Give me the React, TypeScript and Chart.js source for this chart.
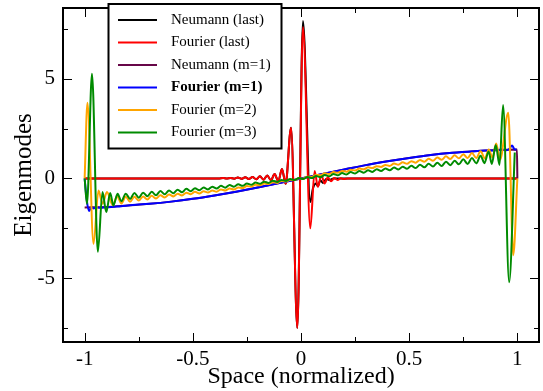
import React, { useEffect, useRef } from 'react';
import { Chart, registerables } from 'chart.js';

Chart.register(...registerables);

// ---------------- labels / styles ----------------
const seriesLabels = ['Neumann (last)', 'Fourier (last)', 'Neumann (m=1)', 'Fourier (m=1)', 'Fourier (m=2)', 'Fourier (m=3)'];
const seriesColors = ['#000000', '#ff0000', '#670748', '#0000ff', '#ffa500', '#008b00'];
const legendBold = [false, false, false, true, false, false];
const xTitle = 'Space (normalized)';
const yTitle = 'Eigenmodes';
const xRange = [-1.1, 1.1];
const yRange = [-8.2, 8.55];
const xStep = 0.5;
const yStep = 5;

// ---------------- data ----------------
// shared part of both "last" modes (left of the spike)
const lastSharedX = [-1, -0.38, -0.36, -0.343, -0.326, -0.309, -0.292, -0.275, -0.258, -0.241, -0.224, -0.207, -0.19, -0.173, -0.156, -0.139, -0.122, -0.105, -0.088, -0.071, -0.046, -0.017];
const lastSharedY = [0, 0, 0.02, -0.005, 0.03, -0.01, 0.045, -0.015, 0.06, -0.025, 0.08, -0.04, 0.11, -0.06, 0.15, -0.09, 0.22, -0.14, 0.48, -0.27, 2.55, -7.5];

const fourierLastX = [0.009, 0.043, 0.063, 0.078, 0.094, 0.109, 0.124, 0.139, 0.154, 0.169, 0.184, 0.199, 0.215, 1.0];
const fourierLastY = [7.6, -2.5, 0.38, -0.42, 0.17, -0.25, 0.06, -0.14, 0.02, -0.07, 0.01, -0.03, 0, 0];

const neumannLastX = [0.009, 0.043, 0.055, 0.07, 0.078, 0.089, 0.101, 0.117, 0.13, 0.15, 1.0];
const neumannLastY = [7.9, -1.18, -0.5, -0.25, -0.39, -0.085, -0.22, -0.02, -0.08, 0, 0];

const neumannM1X = [-1, -0.9, -0.8, -0.7, -0.6, -0.5, -0.4, -0.3, -0.2, -0.1, 0, 0.1, 0.2, 0.3, 0.4, 0.5, 0.6, 0.7, 0.8, 0.9, 0.998, 1.0];
const neumannM1Y = [-1.45, -1.43, -1.35, -1.27, -1.16, -1.02, -0.85, -0.66, -0.45, -0.23, 0, 0.23, 0.45, 0.67, 0.86, 1.03, 1.18, 1.29, 1.37, 1.43, 1.45, 0];

const fourierM1X = [-1, -0.99, -0.98, -0.968, -0.957, -0.945, -0.93, -0.9, -0.85, -0.8, -0.7, -0.6, -0.5, -0.4, -0.3, -0.2, -0.1, 0, 0.1, 0.2, 0.3, 0.4, 0.5, 0.6, 0.7, 0.8, 0.85, 0.9, 0.93, 0.95, 0.962, 0.976, 0.987, 0.996];
const fourierM1Y = [0, -1.1, -1.63, -1.43, -1.5, -1.44, -1.47, -1.44, -1.41, -1.35, -1.27, -1.16, -1.02, -0.85, -0.66, -0.45, -0.23, 0, 0.23, 0.45, 0.67, 0.86, 1.03, 1.18, 1.29, 1.37, 1.4, 1.42, 1.45, 1.42, 1.48, 1.65, 1.46, 1.45];

const fourierM2X = [
  -1, -0.987, -0.959, -0.936, -0.9175, -0.897,
  -0.87, -0.85, -0.83, -0.81, -0.79, -0.77, -0.75, -0.73, -0.71, -0.69,
  -0.67, -0.65, -0.63, -0.61, -0.59, -0.57, -0.55, -0.53, -0.51, -0.49,
  -0.47, -0.45, -0.43, -0.41, -0.39, -0.37, -0.35, -0.33, -0.31, -0.29,
  -0.27, -0.25, -0.23, -0.21, -0.19, -0.17, -0.15, -0.13, -0.11, -0.09,
  -0.07, -0.05, -0.03, -0.01, 0.01, 0.03, 0.05, 0.07, 0.09, 0.11,
  0.13, 0.15, 0.17, 0.19, 0.21, 0.23, 0.25, 0.27, 0.29, 0.31,
  0.33, 0.35, 0.37, 0.39, 0.41, 0.43, 0.45, 0.47, 0.49, 0.51,
  0.53, 0.55, 0.57, 0.59, 0.61, 0.63, 0.65, 0.67, 0.69, 0.71,
  0.73, 0.75, 0.77, 0.79, 0.81, 0.83, 0.85,
  0.868, 0.885, 0.902, 0.92, 0.958, 0.981, 1.0,
];
const fourierM2Y = [
  0, 3.8, -3.27, -0.6, -1.27, -0.68,
  -1.34, -0.89, -1.25, -0.92, -1.17, -0.92, -1.11, -0.90, -1.05, -0.87,
  -1.00, -0.84, -0.95, -0.80, -0.90, -0.76, -0.85, -0.71, -0.79, -0.67,
  -0.75, -0.64, -0.70, -0.60, -0.66, -0.55, -0.60, -0.50, -0.55, -0.45,
  -0.48, -0.38, -0.41, -0.32, -0.34, -0.25, -0.28, -0.19, -0.22, -0.12,
  -0.15, -0.06, -0.08, 0.01, -0.01, 0.09, 0.08, 0.18, 0.16, 0.26,
  0.23, 0.32, 0.29, 0.38, 0.34, 0.44, 0.40, 0.50, 0.46, 0.56,
  0.52, 0.62, 0.58, 0.68, 0.63, 0.75, 0.69, 0.81, 0.74, 0.87,
  0.79, 0.93, 0.84, 0.99, 0.89, 1.05, 0.94, 1.11, 0.98, 1.16,
  1.01, 1.22, 1.03, 1.28, 1.03, 1.36, 1.0,
  1.45, 1.05, 1.75, 0.95, 3.3, -3.85, 0,
];

const fourierM3X = [
  -1, -0.989, -0.966, -0.939, -0.9175, -0.9, -0.882, -0.867, -0.848,
  -0.83, -0.81, -0.79, -0.77, -0.75, -0.73, -0.71, -0.69, -0.67, -0.65,
  -0.63, -0.61, -0.59, -0.57, -0.55, -0.53, -0.51, -0.49, -0.47, -0.45,
  -0.43, -0.41, -0.39, -0.37, -0.35, -0.33, -0.31, -0.29, -0.27, -0.25,
  -0.23, -0.21, -0.19, -0.17, -0.15, -0.13, -0.11, -0.09, -0.07, -0.05,
  -0.03, -0.01, 0.01, 0.03, 0.05, 0.07, 0.09, 0.11, 0.13, 0.15,
  0.17, 0.19, 0.21, 0.23, 0.25, 0.27, 0.29, 0.31, 0.33, 0.35,
  0.37, 0.39, 0.41, 0.43, 0.45, 0.47, 0.49, 0.51, 0.53, 0.55,
  0.57, 0.59, 0.61, 0.63, 0.65, 0.67, 0.69, 0.71, 0.73, 0.75,
  0.77, 0.79, 0.81, 0.83,
  0.848, 0.867, 0.882, 0.9, 0.9175, 0.934, 0.962, 0.988,
];
const fourierM3Y = [
  0, -1.27, 5.25, -3.68, -0.68, -1.68, -0.73, -1.35, -0.77,
  -1.14, -0.76, -1.03, -0.73, -0.96, -0.71, -0.89, -0.67, -0.84, -0.63,
  -0.79, -0.60, -0.74, -0.56, -0.69, -0.52, -0.64, -0.49, -0.59, -0.45,
  -0.55, -0.41, -0.50, -0.37, -0.46, -0.33, -0.41, -0.29, -0.37, -0.25,
  -0.32, -0.20, -0.27, -0.16, -0.22, -0.11, -0.17, -0.07, -0.12, -0.02,
  -0.08, 0.03, -0.03, 0.08, 0.02, 0.12, 0.07, 0.17, 0.11, 0.22,
  0.16, 0.27, 0.20, 0.32, 0.25, 0.37, 0.29, 0.41, 0.33, 0.46,
  0.37, 0.50, 0.41, 0.55, 0.45, 0.59, 0.49, 0.64, 0.52, 0.69,
  0.56, 0.74, 0.60, 0.79, 0.63, 0.84, 0.67, 0.89, 0.71, 0.96,
  0.73, 1.03, 0.76, 1.14,
  0.77, 1.35, 0.73, 1.68, 0.68, 3.68, -5.2, 1.3,
];

const zip = (xs: number[], ys: number[]) => xs.map((x, i) => ({ x, y: ys[i] }));

const seriesData = [
  zip(lastSharedX.concat(neumannLastX), lastSharedY.concat(neumannLastY)),
  zip(lastSharedX.concat(fourierLastX), lastSharedY.concat(fourierLastY)),
  zip(neumannM1X, neumannM1Y),
  zip(fourierM1X, fourierM1Y),
  zip(fourierM2X, fourierM2Y),
  zip(fourierM3X, fourierM3Y),
];

const FONT = '"Liberation Serif", "Times New Roman", serif';

// ---------------- layout constants ----------------
const LEGEND = { left: 108.5, top: 4, right: 281.5, bottom: 148.5, lineX0: 118, lineX1: 157, textX: 171, rowY0: 20, rowDy: 22.5 };

const framePlugin = {
  id: 'frameTicksLegend',
  afterDatasetsDraw(chart: any) {
    const { ctx, chartArea } = chart;
    const { left, right, top, bottom } = chartArea;
    const xs = chart.scales.x;
    const ys = chart.scales.y;
    ctx.save();

    const drawTicks = (scale: any, horizontal: boolean) => {
      const majors: number[] = scale.ticks.map((t: any) => t.value);
      const step = majors.length > 1 ? majors[1] - majors[0] : 1;
      const minors: number[] = [];
      for (let i = 0; i <= majors.length; i++) {
        const v = majors[0] - step / 2 + i * step;
        if (v > scale.min && v < scale.max) minors.push(v);
      }
      const one = (v: number, len: number) => {
        const p = Math.round(scale.getPixelForValue(v)) + 0.5;
        if (horizontal) {
          ctx.moveTo(p, bottom); ctx.lineTo(p, bottom - len);
          ctx.moveTo(p, top); ctx.lineTo(p, top + len);
        } else {
          ctx.moveTo(left, p); ctx.lineTo(left + len, p);
          ctx.moveTo(right, p); ctx.lineTo(right - len, p);
        }
      };
      majors.forEach((v) => one(v, 9));
      minors.forEach((v) => one(v, 5));
    };

    ctx.strokeStyle = '#000';
    ctx.lineWidth = 1;
    ctx.beginPath();
    drawTicks(xs, true);
    drawTicks(ys, false);
    ctx.stroke();

    ctx.lineWidth = 2;
    ctx.strokeRect(left, top, right - left, bottom - top);

    // legend box
    ctx.fillStyle = '#fff';
    ctx.fillRect(LEGEND.left, LEGEND.top, LEGEND.right - LEGEND.left, LEGEND.bottom - LEGEND.top);
    ctx.lineWidth = 2;
    ctx.strokeStyle = '#000';
    ctx.strokeRect(LEGEND.left, LEGEND.top, LEGEND.right - LEGEND.left, LEGEND.bottom - LEGEND.top);
    ctx.textBaseline = 'middle';
    ctx.textAlign = 'left';
    chart.data.datasets.forEach((ds: any, i: number) => {
      const y = LEGEND.rowY0 + LEGEND.rowDy * i;
      ctx.strokeStyle = ds.borderColor;
      ctx.lineWidth = 2;
      ctx.beginPath();
      ctx.moveTo(LEGEND.lineX0, y);
      ctx.lineTo(LEGEND.lineX1, y);
      ctx.stroke();
      ctx.fillStyle = '#000';
      ctx.font = `${legendBold[i] ? 'bold ' : ''}15px ${FONT}`;
      ctx.fillText(ds.label, LEGEND.textX, y);
    });
    ctx.restore();
  },
};

export default function App() {
  const canvasRef = useRef<HTMLCanvasElement | null>(null);

  useEffect(() => {
    const canvas = canvasRef.current;
    if (!canvas) return;
    const chart = new Chart(canvas, {
      type: 'line',
      data: {
        datasets: seriesLabels.map((label, i) => ({
          label,
          data: seriesData[i],
          borderColor: seriesColors[i],
          backgroundColor: seriesColors[i],
          borderWidth: 2,
          pointRadius: 0,
          fill: false,
          cubicInterpolationMode: 'monotone' as const,
          order: seriesLabels.length - 1 - i,
        })),
      },
      options: {
        animation: false,
        responsive: false,
        devicePixelRatio: 1,
        events: [],
        layout: { padding: { top: 8, right: 4, left: 0, bottom: 0 } },
        plugins: { legend: { display: false }, tooltip: { enabled: false } },
        scales: {
          x: {
            type: 'linear',
            min: xRange[0],
            max: xRange[1],
            grid: { display: false, drawTicks: false },
            border: { display: false },
            ticks: { stepSize: xStep, includeBounds: false, color: '#000', padding: 5, maxRotation: 0, font: { family: FONT, size: 21 }, callback: (v: any) => String(v) },
            title: { display: true, text: xTitle, color: '#000', font: { family: FONT, size: 24, lineHeight: 1 }, padding: { top: 0, bottom: 2 } },
            afterFit: (s: any) => { s.height = 49; s.paddingLeft = 0; s.paddingRight = 0; },
          },
          y: {
            type: 'linear',
            min: yRange[0],
            max: yRange[1],
            grid: { display: false, drawTicks: false },
            border: { display: false },
            ticks: { stepSize: yStep, includeBounds: false, color: '#000', padding: 8, font: { family: FONT, size: 21 }, callback: (v: any) => String(v) },
            title: { display: true, text: yTitle, color: '#000', font: { family: FONT, size: 25, lineHeight: 1 }, padding: { top: 12, bottom: 0 } },
            afterFit: (s: any) => { s.width = 63; s.paddingTop = 0; s.paddingBottom = 0; },
          },
        },
      },
      plugins: [framePlugin],
    } as any);
    return () => chart.destroy();
  }, []);

  return (
    <div style={{ position: 'absolute', left: 0, top: 0, width: 543, height: 391, background: '#fff' }}>
      <canvas ref={canvasRef} width={543} height={391} style={{ display: 'block', width: 543, height: 391 }} />
    </div>
  );
}
